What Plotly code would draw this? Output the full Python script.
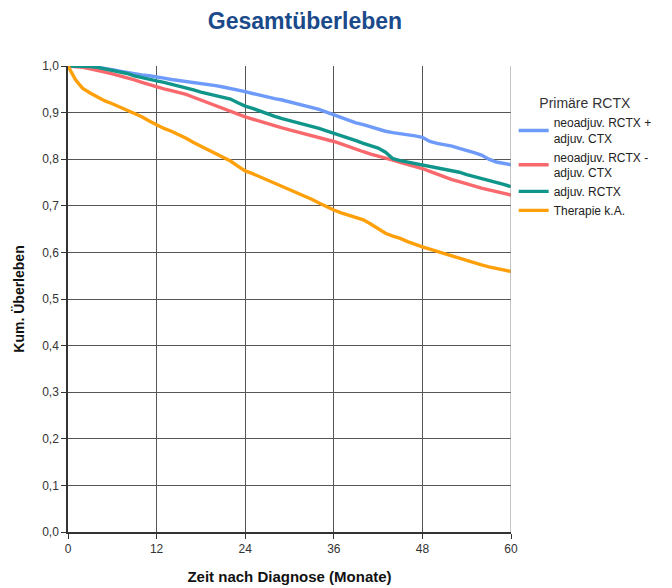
import plotly.graph_objects as go

months = list(range(0, 61))

blue_vals = [1.000, 1.000, 1.000, 0.999, 0.997, 0.995, 0.992, 0.989, 0.986, 0.983,
             0.981, 0.979, 0.977, 0.974, 0.971, 0.969, 0.967, 0.965, 0.963, 0.961,
             0.958, 0.955, 0.952, 0.948, 0.945, 0.941, 0.937, 0.933, 0.930, 0.927,
             0.923, 0.920, 0.916, 0.912, 0.907, 0.901, 0.895, 0.890, 0.884, 0.878,
             0.874, 0.869, 0.864, 0.860, 0.857, 0.855, 0.852, 0.850, 0.847, 0.838,
             0.834, 0.831, 0.828, 0.823, 0.819, 0.814, 0.809, 0.800, 0.794, 0.791,
             0.788]

red_vals = [1.000, 0.999, 0.997, 0.994, 0.991, 0.987, 0.983, 0.979, 0.975, 0.970,
            0.965, 0.960, 0.955, 0.951, 0.947, 0.943, 0.939, 0.933, 0.927, 0.920,
            0.914, 0.908, 0.902, 0.897, 0.891, 0.886, 0.881, 0.876, 0.871, 0.867,
            0.863, 0.859, 0.855, 0.851, 0.847, 0.842, 0.838, 0.833, 0.827, 0.821,
            0.816, 0.811, 0.807, 0.803, 0.798, 0.793, 0.789, 0.784, 0.780, 0.774,
            0.768, 0.762, 0.756, 0.752, 0.747, 0.742, 0.738, 0.734, 0.730, 0.727,
            0.723]

teal_vals = [1.000, 1.000, 1.000, 0.999, 0.997, 0.994, 0.990, 0.987, 0.984, 0.979,
             0.975, 0.972, 0.968, 0.965, 0.961, 0.958, 0.953, 0.949, 0.944, 0.940,
             0.936, 0.933, 0.929, 0.921, 0.914, 0.909, 0.903, 0.897, 0.892, 0.887,
             0.883, 0.879, 0.875, 0.871, 0.866, 0.861, 0.856, 0.850, 0.845, 0.840,
             0.834, 0.829, 0.824, 0.815, 0.801, 0.797, 0.794, 0.791, 0.788, 0.785,
             0.782, 0.779, 0.776, 0.772, 0.767, 0.763, 0.759, 0.755, 0.751, 0.746,
             0.741]

orange_times = [0, 0.5, 1, 1.5, 2] + list(range(3, 61))
orange_vals = [1.000, 0.985, 0.971, 0.961, 0.952, 0.942, 0.933, 0.925, 0.919, 0.912,
               0.906, 0.899, 0.891, 0.882, 0.873, 0.866, 0.860, 0.853, 0.845, 0.836,
               0.828, 0.819, 0.811, 0.805, 0.796, 0.785, 0.775, 0.769, 0.762, 0.756,
               0.750, 0.743, 0.736, 0.729, 0.721, 0.714, 0.706, 0.698, 0.691, 0.685,
               0.680, 0.676, 0.670, 0.661, 0.651, 0.641, 0.635, 0.630, 0.623, 0.617,
               0.612, 0.607, 0.602, 0.597, 0.592, 0.588, 0.583, 0.578, 0.573, 0.569,
               0.566, 0.563, 0.559]

series_names = ["neoadjuv. RCTX +<br>adjuv. CTX", "neoadjuv. RCTX -<br>adjuv. CTX",
                "adjuv. RCTX", "Therapie k.A."]
series_colors = ["#6e9bfa", "#f8696e", "#10958a", "#ffa00a"]

x_ticks = [0, 12, 24, 36, 48, 60]
y_ticks = [0.0, 0.1, 0.2, 0.3, 0.4, 0.5, 0.6, 0.7, 0.8, 0.9, 1.0]
y_ticktext = ["0,0", "0,1", "0,2", "0,3", "0,4", "0,5", "0,6", "0,7", "0,8", "0,9", "1,0"]

fig = go.Figure()
data = [(months, blue_vals), (months, red_vals), (months, teal_vals), (orange_times, orange_vals)]
for (xs, ys), name, col in zip(data, series_names, series_colors):
    fig.add_trace(go.Scatter(x=xs, y=ys, mode="lines", name=name,
                             line=dict(color=col, width=3.4, shape="linear")))

fig.update_layout(
    width=672, height=588,
    margin=dict(l=68, r=161, t=66, b=56, autoexpand=False),
    paper_bgcolor="white", plot_bgcolor="white",
    font=dict(family="Liberation Sans, Arial, sans-serif", color="#222"),
    title=dict(text="<b>Gesamtüberleben</b>", x=305 / 672, xanchor="center",
               xref="container", y=1 - 21 / 588, yanchor="middle", yref="container",
               font=dict(size=23, color="#1a4a8a")),
    legend=dict(title=dict(text="Primäre RCTX", side="top center",
                           font=dict(size=14, color="#333")),
                x=1.006, y=0.948, xanchor="left", yanchor="top",
                font=dict(size=12, color="#222"), tracegroupgap=0,
                itemwidth=30),
    showlegend=True,
)
fig.update_xaxes(range=[0, 60], tickvals=x_ticks, ticks="outside", ticklen=5,
                 tickcolor="#333", showgrid=True, gridcolor="#555", gridwidth=1,
                 showline=True, linecolor="#333", linewidth=1.5, mirror=False,
                 zeroline=False, tickfont=dict(size=12, color="#333"),
                 title=dict(text="<b>Zeit nach Diagnose (Monate)</b>",
                            font=dict(size=15, color="#111"), standoff=16))
fig.update_yaxes(range=[0, 1.0], tickvals=y_ticks, ticktext=y_ticktext, ticks="outside",
                 ticklen=5, tickcolor="#333", showgrid=True, gridcolor="#555", gridwidth=1,
                 showline=True, linecolor="#333", linewidth=1.5, zeroline=False,
                 tickfont=dict(size=12, color="#333"),
                 title=dict(text="<b>Kum. Überleben</b>", font=dict(size=14, color="#111"),
                            standoff=14))
fig.add_shape(type="line", xref="x", yref="paper", x0=60, x1=60, y0=0, y1=1,
              line=dict(color="#888", width=1))
fig.write_html("out.html")
